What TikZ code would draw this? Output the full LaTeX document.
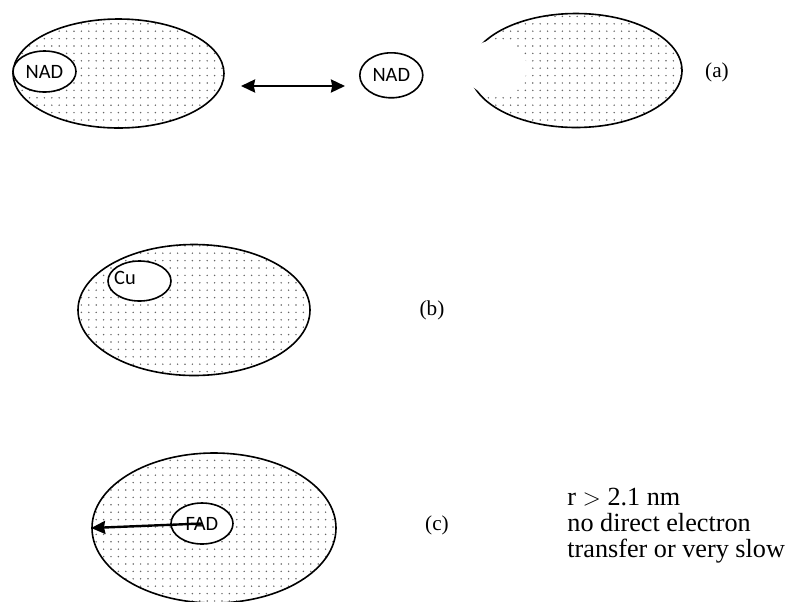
\documentclass[tikz,border=0pt]{standalone}
\usepackage{fontspec}
\setmainfont{Liberation Serif}
\newfontfamily\calib{Carlito}
\usepackage{tikz}
\usetikzlibrary{shapes.geometric, arrows.meta, positioning, patterns}
\pgfdeclarepatternformonly{sparsedots}{\pgfqpoint{-1pt}{-1pt}}{\pgfqpoint{1pt}{1pt}}{\pgfqpoint{3.7pt}{3.7pt}}{%
    \pgfpathcircle{\pgfqpoint{0pt}{0pt}}{0.42pt}\pgfusepath{fill}}
\tikzset{
    protein/.style={ellipse, draw=black, thick, inner sep=0pt, pattern=sparsedots, pattern color=black!60},
    cofactor/.style={ellipse, draw=black, thick, fill=white, inner sep=0pt, minimum width=31.5pt, minimum height=20.5pt, font=\calib\fontsize{10.2}{12}\selectfont},
    arrow/.style={line width=1.2pt, >={Stealth[length=7pt, width=6.5pt, inset=0.6pt]}}
}

\begin{document}
\begin{tikzpicture}[
    x=0.5pt, y=-0.5pt,
    every node/.style={font=\fontsize{10.6}{12.8}\selectfont},
    caselabel/.style={inner sep=0pt}
]
    \useasboundingbox (0,0) rectangle (792,601);
    \clip (0,0) rectangle (792,601);

    % (a) binding and release of NAD
    \node[protein, minimum width=105.5pt, minimum height=54.5pt] (prota) at (118.5,73.5) {};
    \node[cofactor] (nadin) at (44.5,71.5) {NAD};
    \node[cofactor, minimum height=22.5pt] (nadfree) at (391.3,75.3) {NAD};
    \node[protein, minimum width=106pt, minimum height=57pt] (protempty) at (576,70.5) {};
    \node[ellipse, fill=white, inner sep=0pt, minimum width=31pt, minimum height=28pt] (site) at (496,68) {};
    \node[caselabel] (laba) at (717,72) {(a)};

    \coordinate (exleft) at (241,86);
    \coordinate (exright) at (345,86);
    \draw[arrow, <->] (exleft) -- (exright);

    % (b) copper site
    \node[protein, minimum width=116pt, minimum height=65.5pt] (protb) at (194,310) {};
    \node[cofactor, minimum height=20pt, label={[font=\calib\fontsize{10.2}{12}\selectfont, anchor=west, inner sep=0pt, xshift=3.3pt, yshift=1.5pt]west:Cu}] (cu) at (139.5,281) {};
    \node[caselabel] (labb) at (432,310) {(b)};

    % (c) buried FAD
    \node[protein, minimum width=122pt, minimum height=75pt] (protc) at (214,528) {};
    \node[cofactor, minimum width=31pt] (fad) at (202,523.5) {FAD};
    \draw[arrow, ->] (fad.center) -- (protc.west);
    \node[caselabel] (labc) at (437,525) {(c)};

    \node[caselabel, anchor=north west, align=left, font=\fontsize{13.1}{12.9}\selectfont] (note) at (567,488) {r $>$ 2.1 nm\\no direct electron\\transfer or very slow};
\end{tikzpicture}
\end{document}
